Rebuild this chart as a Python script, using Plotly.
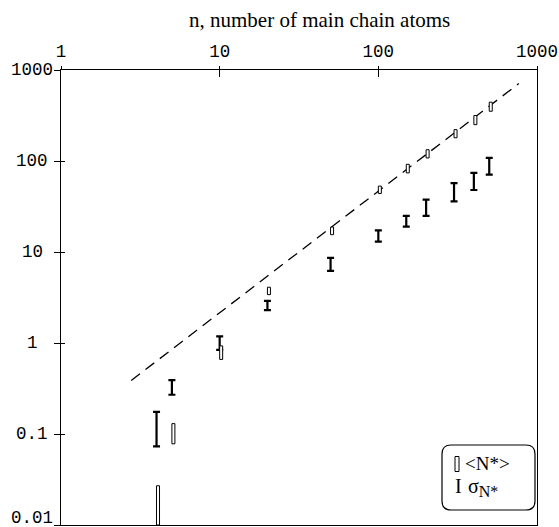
import math
import plotly.graph_objects as go

# ---------------- data ----------------
n_vals = [4, 5, 10, 20, 50, 100, 150, 200, 300, 400, 500]
mean_lo = [0.01, 0.078, 0.66, 3.4, 15.5, 44, 74, 108, 180, 251, 352]
mean_hi = [0.027, 0.13, 0.93, 4.1, 18.8, 53, 92, 133, 221, 316, 443]
sig_lo = [0.073, 0.27, 0.84, 2.3, 6.2, 13.0, 19.0, 25.0, 36.0, 48.0, 71.0]
sig_hi = [0.175, 0.39, 1.18, 2.9, 8.6, 17.3, 25.0, 37.6, 57.0, 74.0, 108.0]
fit_n = [2.77, 768]
fit_y = [0.387, 710]

x_tickvals = [1, 10, 100, 1000]
x_ticktext = ["1", "10", "100", "1000"]
y_tickvals = [0.01, 0.1, 1, 10, 100, 1000]
y_ticktext = ["0.01", "0.1", "1", "10", "100", "1000"]

title_text = "n, number of main chain atoms"
legend_mean = "&lt;N*&gt;"
legend_sigma = "σ<sub><span style='font-size:16px'>N*</span></sub>"

# ---------------- layout constants ----------------
W, H = 559, 527
L, R, T, B = 61, 537, 70, 525
PW, PH = R - L, B - T


def px_x(px):
    return (px - L) / PW


def px_y(py):
    return (B - py) / PH


MONO = "Liberation Mono"
SERIF = "Liberation Serif"

fig = go.Figure()

# dashed fit line
fig.add_trace(go.Scatter(
    x=fit_n, y=fit_y, mode="lines",
    line=dict(color="black", width=1.3, dash="11px,7px"),
    hoverinfo="skip", showlegend=False))

# sigma error bars ("I" marks)
sig_mid = [math.sqrt(a * b) for a, b in zip(sig_lo, sig_hi)]
fig.add_trace(go.Scatter(
    x=n_vals, y=sig_mid, mode="markers",
    marker=dict(size=1, color="rgba(0,0,0,0)"),
    error_y=dict(type="data", symmetric=False,
                 array=[h - m for h, m in zip(sig_hi, sig_mid)],
                 arrayminus=[m - l for m, l in zip(sig_mid, sig_lo)],
                 color="black", thickness=2.2, width=3.5),
    hoverinfo="skip", showlegend=False))

# invisible trace on the overlay axes (for crossing ticks)
fig.add_trace(go.Scatter(x=[10], y=[1], xaxis="x2", yaxis="y2", mode="markers",
                         marker=dict(size=1, color="rgba(0,0,0,0)"),
                         hoverinfo="skip", showlegend=False))

# open rectangles for <N*>
for n, lo, hi in zip(n_vals, mean_lo, mean_hi):
    fig.add_shape(type="rect", xref="x", yref="y", xsizemode="pixel", xanchor=n,
                  x0=-3, x1=3, y0=lo, y1=hi,
                  line=dict(color="black", width=1), fillcolor="white", layer="above")

# y tick labels (centred, as in the reference)
for v, t in zip(y_tickvals, y_ticktext):
    fig.add_annotation(x=px_x(32), xref="paper", y=math.log10(v), yref="y",
                       text=t, showarrow=False, xanchor="center", yanchor="middle",
                       yshift=7 if v == y_tickvals[0] else 0,
                       font=dict(family=MONO, size=17.5, color="black"))

# title
fig.add_annotation(x=px_x(319.5), xref="paper", y=px_y(20), yref="paper",
                   text=title_text, showarrow=False, xanchor="center", yanchor="middle",
                   font=dict(family=SERIF, size=21, color="black"))

# legend: rounded box
cx, cy = 488.5, 477.5
hw, hh, r = 46.5, 32.5, 9
path = (f"M {-hw + r},{-hh} L {hw - r},{-hh} Q {hw},{-hh} {hw},{-hh + r} "
        f"L {hw},{hh - r} Q {hw},{hh} {hw - r},{hh} L {-hw + r},{hh} "
        f"Q {-hw},{hh} {-hw},{hh - r} L {-hw},{-hh + r} Q {-hw},{-hh} {-hw + r},{-hh} Z")
fig.add_shape(type="path", xref="paper", yref="paper", xsizemode="pixel", ysizemode="pixel",
              xanchor=px_x(cx), yanchor=px_y(cy), path=path,
              line=dict(color="black", width=1.2), fillcolor="white", layer="above")
# legend rect symbol
fig.add_shape(type="rect", xref="paper", yref="paper", xsizemode="pixel", ysizemode="pixel",
              xanchor=px_x(457), yanchor=px_y(464), x0=-2, x1=2, y0=-7.5, y1=7.5,
              line=dict(color="black", width=1), fillcolor="white", layer="above")
fig.add_annotation(x=px_x(463), xref="paper", y=px_y(463), yref="paper",
                   text=legend_mean, showarrow=False, xanchor="left", yanchor="middle",
                   font=dict(family=SERIF, size=19, color="black"))
fig.add_annotation(x=px_x(458.5), xref="paper", y=px_y(486), yref="paper",
                   text="I", showarrow=False, xanchor="center", yanchor="middle",
                   font=dict(family=SERIF, size=20, color="black"))
fig.add_annotation(x=px_x(466), xref="paper", y=px_y(487), yref="paper",
                   text=legend_sigma, showarrow=False, xanchor="left", yanchor="middle",
                   font=dict(family=SERIF, size=20, color="black"))

axis_common = dict(type="log", showgrid=False, zeroline=False, color="black",
                   tickcolor="black", tickwidth=1.2)

fig.update_layout(
    width=W, height=H,
    margin=dict(l=L, r=W - R, t=T, b=H - B, pad=0),
    paper_bgcolor="white", plot_bgcolor="white",
    showlegend=False,
    xaxis=dict(**axis_common, range=[0, 3], side="top",
               tickmode="array", tickvals=x_tickvals, ticktext=x_ticktext,
               ticks="inside", ticklen=7,
               showline=True, mirror=True, linecolor="black", linewidth=1.2,
               tickfont=dict(family=MONO, size=17.5, color="black"),
               ticklabelstandoff=5),
    yaxis=dict(**axis_common, range=[-2, 3],
               tickmode="array", tickvals=y_tickvals, showticklabels=False,
               ticks="inside", ticklen=4,
               showline=True, mirror=True, linecolor="black", linewidth=1.2),
    xaxis2=dict(**axis_common, range=[0, 3], overlaying="x", side="top",
                tickmode="array", tickvals=x_tickvals, showticklabels=False,
                ticks="outside", ticklen=3, showline=False),
    yaxis2=dict(**axis_common, range=[-2, 3], overlaying="y", side="left",
                tickmode="array", tickvals=y_tickvals, showticklabels=False,
                ticks="outside", ticklen=6, showline=False),
)

fig.write_html("out.html")
